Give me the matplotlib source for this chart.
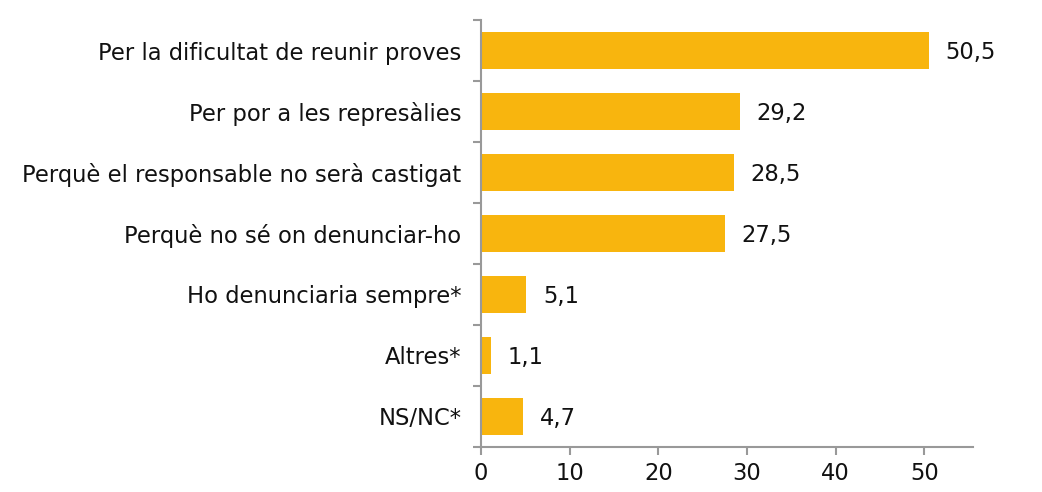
import matplotlib.pyplot as plt
import numpy as np

categories = [
    "Per la dificultat de reunir proves",
    "Per por a les represàlies",
    "Perquè el responsable no serà castigat",
    "Perquè no sé on denunciar-ho",
    "Ho denunciaria sempre*",
    "Altres*",
    "NS/NC*",
]
values = [50.5, 29.2, 28.5, 27.5, 5.1, 1.1, 4.7]
labels = ["50,5", "29,2", "28,5", "27,5", "5,1", "1,1", "4,7"]

plt.rcParams['font.family'] = ['DejaVu Sans']
fs = 16.3

fig = plt.figure(figsize=(10.42, 4.92), dpi=100)
ax = fig.add_axes([0.4616, 0.0915, 0.934 - 0.4616, 0.9593 - 0.0915])

y = np.arange(len(categories))
ax.barh(y, values, height=0.62, color="#F8B50E")
for yi, v, lab in zip(y, values, labels):
    ax.text(v + 1.9, yi + 0.03, lab, va="center", ha="left", fontsize=fs, color="#111111")

ax.set_ylim(len(categories) - 0.5, -0.5)
ax.set_xlim(0, 55.5)
ax.set_yticks(y)
ax.set_yticklabels(categories, fontsize=fs, color="#111111")
ax.set_yticks(np.arange(-0.5, len(categories)), minor=True)
ax.tick_params(axis="y", which="major", length=0, pad=14)
ax.tick_params(axis="y", which="minor", length=6, color="#999999", width=1.5)
ax.set_xticks([0, 10, 20, 30, 40, 50])
ax.tick_params(axis="x", length=6, color="#999999", width=1.5, labelsize=fs, labelcolor="#111111", pad=5)

for s in ["top", "right"]:
    ax.spines[s].set_visible(False)
for s in ["left", "bottom"]:
    ax.spines[s].set_color("#999999")
    ax.spines[s].set_linewidth(1.5)

fig.savefig("out.png", dpi=100)
